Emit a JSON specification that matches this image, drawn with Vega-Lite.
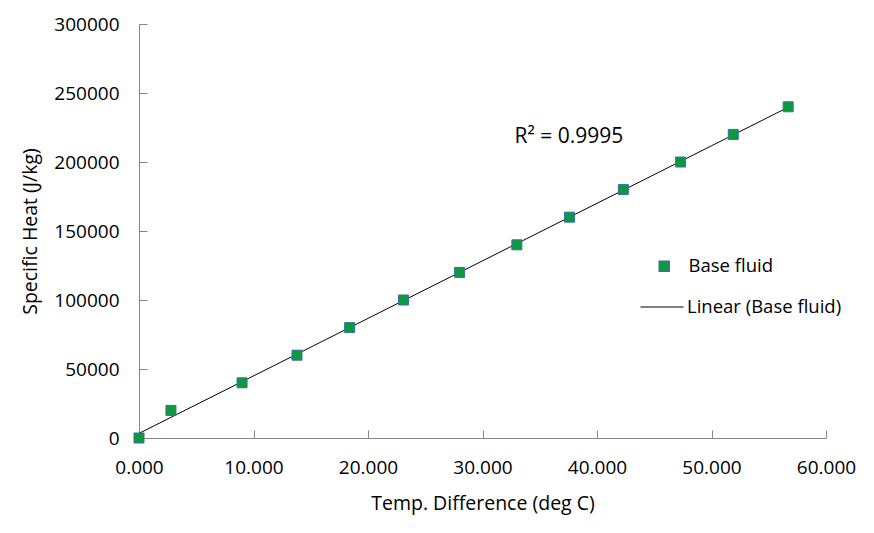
{
  "$schema": "https://vega.github.io/schema/vega-lite/v6.json",
  "width": 687,
  "height": 414,
  "autosize": {"type": "none"},
  "padding": {"left": 139, "top": 24, "right": 48, "bottom": 95},
  "background": "white",
  "config": {
    "view": {"stroke": null},
    "font": "Open Sans",
    "axis": {
      "grid": false,
      "domainColor": "#868686",
      "tickColor": "#868686",
      "labelColor": "#000000",
      "titleColor": "#000000",
      "labelFont": "Open Sans",
      "titleFont": "Open Sans",
      "labelFontSize": 19,
      "titleFontSize": 19.5,
      "labelFontWeight": "normal",
      "titleFontWeight": "normal"
    }
  },
  "datasets": {
    "pts": [
      {"dt": 0.0, "cp": 0},
      {"dt": 2.79, "cp": 20000},
      {"dt": 9.0, "cp": 40000},
      {"dt": 13.8, "cp": 60000},
      {"dt": 18.4, "cp": 80000},
      {"dt": 23.1, "cp": 100000},
      {"dt": 28.0, "cp": 120000},
      {"dt": 33.0, "cp": 140000},
      {"dt": 37.6, "cp": 160000},
      {"dt": 42.3, "cp": 180000},
      {"dt": 47.3, "cp": 200000},
      {"dt": 51.9, "cp": 220000},
      {"dt": 56.7, "cp": 240000}
    ],
    "note": [{"dt": 32.8, "cp": 218000, "label": "R² = 0.9995"}]
  },
  "layer": [
    {
      "data": {"name": "pts"},
      "transform": [
        {"regression": "cp", "on": "dt"},
        {"calculate": "'Linear (Base fluid)'", "as": "trend"}
      ],
      "mark": {"type": "line", "strokeWidth": 1},
      "encoding": {
        "x": {"field": "dt", "type": "quantitative"},
        "y": {"field": "cp", "type": "quantitative"},
        "color": {
          "field": "trend", "type": "nominal",
          "scale": {"domain": ["Linear (Base fluid)"], "range": ["#000000"]},
          "legend": {
            "title": null,
            "orient": "none",
            "legendX": 501,
            "legendY": 261,
            "padding": 0,
            "labelFont": "Open Sans",
            "labelFontSize": 18.5,
            "labelColor": "#000000",
            "labelOffset": 3,
            "symbolSize": 1849,
            "symbolStrokeWidth": 1,
            "symbolType": "stroke"
          }
        }
      }
    },
    {
      "data": {"name": "pts"},
      "transform": [{"calculate": "'Base fluid'", "as": "series"}],
      "mark": {"type": "point", "filled": true, "fill": "#0d9a3c", "stroke": "#3a6cb0", "strokeWidth": 1, "size": 100, "opacity": 1},
      "encoding": {
        "x": {
          "field": "dt", "type": "quantitative",
          "scale": {"domain": [0, 60], "nice": false, "zero": false},
          "axis": {"values": [0, 10, 20, 30, 40, 50, 60], "format": ".3f", "title": "Temp. Difference (deg C)", "tickSize": -8, "labelPadding": 28, "labelFlush": false, "titlePadding": 17}
        },
        "y": {
          "field": "cp", "type": "quantitative",
          "scale": {"domain": [0, 300000], "nice": false},
          "axis": {"values": [0, 50000, 100000, 150000, 200000, 250000, 300000], "format": "d", "title": "Specific Heat (J/kg)", "tickSize": -8, "labelPadding": 28, "labelFlush": false, "titlePadding": 13}
        },
        "shape": {
          "field": "series", "type": "nominal",
          "scale": {"domain": ["Base fluid"], "range": ["square"]},
          "legend": {
            "title": null,
            "orient": "none",
            "legendX": 516,
            "legendY": 233,
            "padding": 0,
            "labelFont": "Open Sans",
            "labelFontSize": 18.5,
            "labelColor": "#000000",
            "labelOffset": 15,
            "symbolSize": 100
          }
        }
      }
    },
    {
      "data": {"name": "note"},
      "mark": {"type": "text", "align": "left", "baseline": "middle", "font": "Open Sans", "fontSize": 21, "color": "#000000"},
      "encoding": {
        "x": {"field": "dt", "type": "quantitative"},
        "y": {"field": "cp", "type": "quantitative"},
        "text": {"field": "label"}
      }
    }
  ]
}
